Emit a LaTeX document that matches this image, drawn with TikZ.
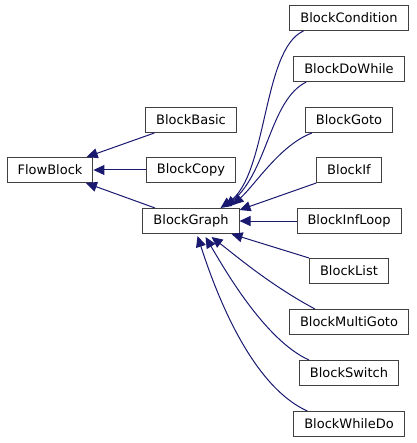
\documentclass[tikz,border=0pt]{standalone}
\usepackage{fontspec}
\setmainfont{DejaVu Sans}
\usetikzlibrary{arrows.meta}
\definecolor{midnightblue}{HTML}{191970}
\begin{document}
\begin{tikzpicture}
  [x=1pt, y=-1pt, font=\fontsize{13}{15}\selectfont]
  \tikzstyle{cls} = [draw=black!75, line width=1pt, minimum height=25pt, inner xsep=10.5pt, inner ysep=0pt];
  \tikzstyle{inherit} = [draw=midnightblue, line width=1pt, {Triangle[length=11pt, width=10pt, fill=midnightblue]}-];

  \useasboundingbox (0, 0) rectangle (416, 443);

  \node[cls] (flowblock) at (50, 170) {FlowBlock};

  \node[cls] (basic) at (191, 120) {BlockBasic};
  \node[cls] (copy)  at (191, 170) {BlockCopy};
  \node[cls] (graph) at (191, 221) {BlockGraph};

  \node[cls] (condition) at (349, 18)  {BlockCondition};
  \node[cls] (dowhile)   at (349, 69)  {BlockDoWhile};
  \node[cls] (goto)      at (349, 120) {BlockGoto};
  \node[cls] (blockif)   at (349, 170) {BlockIf};
  \node[cls] (infloop)   at (349, 221) {BlockInfLoop};
  \node[cls] (list)      at (349, 271) {BlockList};
  \node[cls] (multigoto) at (349, 322) {BlockMultiGoto};
  \node[cls] (switch)    at (349, 373) {BlockSwitch};
  \node[cls] (whiledo)   at (349, 424) {BlockWhileDo};

  \draw[inherit] (flowblock) -- (basic);
  \draw[inherit] (flowblock) -- (copy);
  \draw[inherit] (flowblock) -- (graph);

  \draw[inherit] ([xshift=-19pt]graph.north east) .. controls (268, 175) and (262, 50) .. ([xshift=14pt]condition.south west);
  \draw[inherit] ([xshift=-14pt, yshift=1pt]graph.north east) .. controls (268, 170) and (270, 100) .. ([xshift=13pt]dowhile.south west);
  \draw[inherit] ([xshift=-7pt, yshift=3pt]graph.north east) .. controls (255, 185) and (280, 145) .. ([xshift=7pt]goto.south west);
  \draw[inherit] ([yshift=-2pt]graph.north east) -- (blockif.south west);
  \draw[inherit] (graph) -- (infloop);
  \draw[inherit] ([xshift=-8pt]graph.south east) -- (list.north west);
  \draw[inherit] ([xshift=-28pt, yshift=-3pt]graph.south east) .. controls (235, 255) and (270, 285) .. ([xshift=26pt]multigoto.north west);
  \draw[inherit] ([xshift=-34pt, yshift=-3pt]graph.south east) .. controls (225, 270) and (265, 340) .. ([xshift=10pt]switch.north west);
  \draw[inherit] ([xshift=-42pt, yshift=-2pt]graph.south east) .. controls (215, 290) and (250, 385) .. ([xshift=14pt]whiledo.north west);

\end{tikzpicture}
\end{document}
